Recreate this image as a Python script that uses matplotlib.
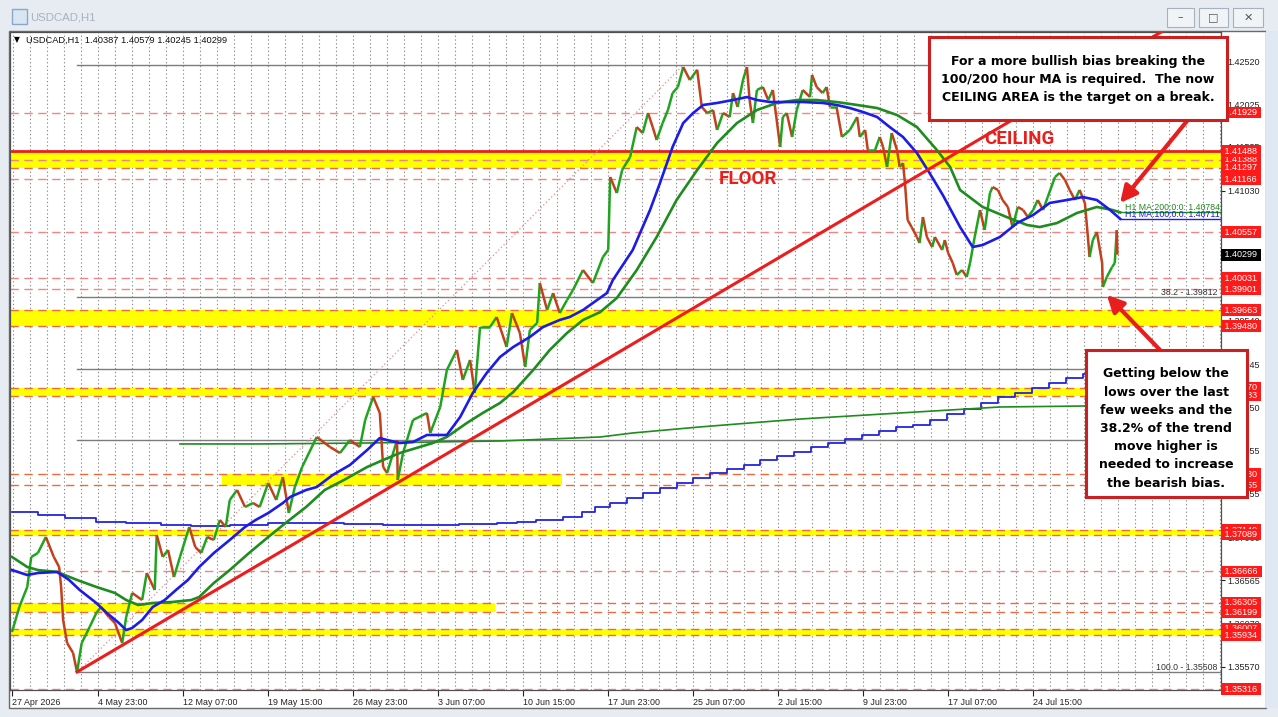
import matplotlib
matplotlib.use("Agg")
from matplotlib import pyplot as plt
from matplotlib.collections import LineCollection
from matplotlib.patches import Rectangle

plt.rcParams['font.family'] = ['Liberation Sans', 'DejaVu Sans']

# ---- data (x = hourly bar number counted from 27 Apr 2026 00:00) ----
price_bar = [0, 11, 23, 29, 39, 51, 63, 71, 74, 77, 83, 92, 98, 105, 117, 127, 134, 146, 155, 166,
             172, 181, 196, 203, 215, 218, 227, 235, 244, 253, 267, 276, 285, 294, 304, 313, 322, 328,
             339, 351, 363, 373, 386, 398, 408, 417, 426, 437, 459, 479, 494, 509, 524, 532, 544, 554,
             559, 565, 580, 581, 589, 604, 625, 630, 645, 655, 670, 679, 690, 697, 705, 720, 730, 745,
             753, 765, 773, 780, 791, 795, 806, 815, 825, 836, 845, 860, 875, 890, 898, 901, 911, 919,
             931, 941, 950, 958, 965, 971, 980, 988, 995, 1003, 1011, 1021, 1032, 1039, 1047, 1056,
             1062, 1071, 1081, 1086, 1093, 1101, 1107, 1111, 1116, 1122, 1131, 1139, 1146, 1157, 1161,
             1167, 1175, 1182, 1191, 1202, 1205, 1212, 1221, 1227, 1232, 1242, 1250, 1262, 1273, 1277,
             1285, 1289, 1300, 1307, 1312, 1318, 1325, 1333, 1337, 1342, 1345, 1349, 1355, 1363, 1367,
             1372, 1378, 1386, 1390, 1401, 1405, 1410, 1417, 1423, 1431, 1438, 1443, 1450, 1458, 1465,
             1473, 1477, 1485, 1492, 1500, 1507, 1515, 1523, 1530, 1538, 1545, 1553, 1560, 1571, 1578,
             1586, 1593, 1601, 1608, 1616, 1620, 1623, 1628, 1634, 1642, 1643, 1649, 1657, 1661, 1664,
             1665]
price_val = [1.35971, 1.36258, 1.36488, 1.36832, 1.36877, 1.37061, 1.36832, 1.36717, 1.36488, 1.36109,
             1.35845, 1.35731, 1.35510, 1.35845, 1.36029, 1.36189, 1.36258, 1.36143, 1.36075, 1.35845,
             1.36143, 1.36419, 1.36338, 1.36648, 1.36453, 1.37084, 1.36832, 1.36912, 1.36602, 1.36832,
             1.37176, 1.36946, 1.36877, 1.37061, 1.37027, 1.37256, 1.37176, 1.37485, 1.37600, 1.37405,
             1.37451, 1.37405, 1.37680, 1.37485, 1.37749, 1.37336, 1.37634, 1.37864, 1.38208, 1.38093,
             1.38024, 1.38173, 1.38093, 1.38403, 1.38667, 1.38483, 1.37864, 1.37795, 1.38173, 1.37715,
             1.38024, 1.38403, 1.38483, 1.38254, 1.38552, 1.38976, 1.39206, 1.38862, 1.39091, 1.38712,
             1.39470, 1.39470, 1.39584, 1.39240, 1.39630, 1.39401, 1.39011, 1.39435, 1.39515, 1.39974,
             1.39664, 1.39859, 1.39630, 1.39779, 1.39894, 1.40123, 1.39974, 1.40272, 1.40353, 1.41190,
             1.41006, 1.41270, 1.41419, 1.41763, 1.41694, 1.41924, 1.41763, 1.41614, 1.41809, 1.41958,
             1.42153, 1.42222, 1.42451, 1.42302, 1.42420, 1.41993, 1.41924, 1.41958, 1.41729, 1.41924,
             1.41878, 1.42153, 1.41993, 1.42302, 1.42451, 1.42073, 1.41809, 1.42188, 1.42222, 1.42073,
             1.42188, 1.41534, 1.41878, 1.41924, 1.41649, 1.41958, 1.42188, 1.42107, 1.42360, 1.42222,
             1.42153, 1.42222, 1.41993, 1.41993, 1.41649, 1.41729, 1.41878, 1.41649, 1.41729, 1.41500,
             1.41500, 1.41649, 1.41534, 1.41305, 1.41694, 1.41500, 1.41305, 1.41350, 1.41121, 1.40697,
             1.40616, 1.40502, 1.40433, 1.40731, 1.40502, 1.40387, 1.40502, 1.40353, 1.40467, 1.40318,
             1.40203, 1.40066, 1.40123, 1.40043, 1.40203, 1.40502, 1.40811, 1.40582, 1.41006, 1.41075,
             1.41041, 1.40926, 1.40846, 1.40616, 1.40846, 1.40811, 1.40731, 1.40811, 1.40926, 1.40811,
             1.40960, 1.41190, 1.41236, 1.41155, 1.41041, 1.40926, 1.41041, 1.40892, 1.40548, 1.40272,
             1.40467, 1.40559, 1.40203, 1.39928, 1.40043, 1.40158, 1.40203, 1.40579, 1.40299]

ma100_bar = [0, 23, 39, 68, 86, 102, 127, 143, 161, 172, 181, 196, 212, 230, 247, 265, 282, 304, 328,
             351, 367, 386, 408, 419, 443, 459, 483, 509, 535, 554, 565, 584, 604, 625, 655, 675, 694,
             715, 735, 755, 780, 800, 825, 840, 860, 875, 896, 905, 935, 961, 976, 995, 1011, 1026, 1041,
             1062, 1086, 1107, 1122, 1142, 1161, 1191, 1221, 1242, 1262, 1282, 1303, 1322, 1342, 1363,
             1382, 1402, 1428, 1447, 1462, 1488, 1514, 1538, 1563, 1589, 1613, 1634, 1654, 1669]
ma100_val = [1.36682, 1.36625, 1.36648, 1.36660, 1.36568, 1.36453, 1.36304, 1.36189, 1.36075, 1.35994,
             1.36017, 1.36109, 1.36258, 1.36338, 1.36453, 1.36568, 1.36717, 1.36877, 1.37027, 1.37176,
             1.37256, 1.37336, 1.37451, 1.37520, 1.37600, 1.37634, 1.37772, 1.37887, 1.38059, 1.38196,
             1.38173, 1.38139, 1.38150, 1.38231, 1.38231, 1.38437, 1.38712, 1.38942, 1.39125, 1.39240,
             1.39355, 1.39470, 1.39550, 1.39584, 1.39664, 1.39745, 1.39859, 1.40008, 1.40353, 1.40811,
             1.41121, 1.41534, 1.41809, 1.41924, 1.42016, 1.42039, 1.42073, 1.42107, 1.42073, 1.42050,
             1.42050, 1.42050, 1.42039, 1.42016, 1.41981, 1.41935, 1.41878, 1.41763, 1.41649, 1.41465,
             1.41236, 1.40983, 1.40616, 1.40387, 1.40410, 1.40502, 1.40662, 1.40754, 1.40892, 1.40926,
             1.40960, 1.40926, 1.40811, 1.40711]

ma200_bar = [0, 23, 39, 68, 98, 127, 155, 172, 190, 212, 241, 270, 282, 304, 328, 357, 386, 414, 443,
             471, 500, 535, 559, 584, 634, 655, 685, 709, 735, 755, 785, 810, 836, 860, 886, 911, 941,
             971, 1001, 1032, 1062, 1092, 1122, 1152, 1182, 1212, 1242, 1273, 1303, 1333, 1363, 1393,
             1413, 1428, 1462, 1498, 1529, 1548, 1574, 1604, 1634, 1658, 1669]
ma200_val = [1.36832, 1.36717, 1.36682, 1.36660, 1.36568, 1.36488, 1.36419, 1.36338, 1.36281, 1.36304,
             1.36315, 1.36338, 1.36373, 1.36533, 1.36682, 1.36877, 1.37061, 1.37233, 1.37405, 1.37600,
             1.37715, 1.37864, 1.37944, 1.38024, 1.38139, 1.38208, 1.38368, 1.38483, 1.38598, 1.38724,
             1.38976, 1.39206, 1.39401, 1.39550, 1.39641, 1.39802, 1.40123, 1.40502, 1.40926, 1.41270,
             1.41580, 1.41809, 1.41958, 1.42039, 1.42073, 1.42073, 1.42050, 1.42016, 1.41981, 1.41901,
             1.41763, 1.41500, 1.41305, 1.41041, 1.40846, 1.40731, 1.40639, 1.40616, 1.40662, 1.40777,
             1.40846, 1.40811, 1.40784]

# slower averages carried over from a higher timeframe (stepped blue, thin green)
slow_blue_bar = [0, 39, 80, 127, 172, 224, 270, 328, 386, 443, 500, 559, 616, 673, 730, 761, 789, 830,
                 858, 878, 901, 926, 950, 976, 1001, 1026, 1051, 1077, 1102, 1126, 1152, 1178, 1203,
                 1229, 1254, 1280, 1306, 1331, 1357, 1383, 1408, 1434, 1459, 1485, 1510, 1536, 1562,
                 1588, 1613, 1639, 1666]
slow_blue_val = [1.37348, 1.37313, 1.37279, 1.37233, 1.37222, 1.37199, 1.37187, 1.37199, 1.37222,
                 1.37222, 1.37210, 1.37199, 1.37199, 1.37210, 1.37222, 1.37233, 1.37256, 1.37290,
                 1.37348, 1.37405, 1.37451, 1.37508, 1.37566, 1.37623, 1.37680, 1.37738, 1.37795,
                 1.37841, 1.37887, 1.37944, 1.37990, 1.38036, 1.38093, 1.38139, 1.38185, 1.38231,
                 1.38277, 1.38323, 1.38345, 1.38403, 1.38472, 1.38529, 1.38598, 1.38667, 1.38712,
                 1.38770, 1.38827, 1.38885, 1.38930, 1.38976, 1.39022]
slow_green_bar = [253, 373, 535, 735, 886, 935, 1036, 1187, 1337, 1488, 1613, 1666]
slow_green_val = [1.38128, 1.38128, 1.38139, 1.38162, 1.38208, 1.38254, 1.38323, 1.38414, 1.38483,
                  1.38552, 1.38563, 1.38575]

# horizontal levels (red tags on the price scale)
level_vals = [1.41929, 1.41388, 1.41297, 1.41166, 1.40557, 1.40031, 1.39901, 1.39663, 1.39480,
              1.38770, 1.38683, 1.37780, 1.37655, 1.37140, 1.37089, 1.36666, 1.36305, 1.36199,
              1.36007, 1.35934, 1.35316]
ceiling_top = 1.41488
zone_lo = [1.41297, 1.39480, 1.38683, 1.37655, 1.37089, 1.36199, 1.35934]
zone_hi = [1.41488, 1.39663, 1.38770, 1.37780, 1.37140, 1.36305, 1.36007]
zone_from = [-3, -3, -3, 316, -3, -3, -3]
zone_to = [1821, 1821, 1821, 828, 1821, 727, 1821]

# fibonacci retracement of the Apr low -> Jun high
fib_bars = [98, 1011]
fib_pct = ['0.0', '38.2', '50.0', '61.8', '100.0']
fib_price = [1.42472, 1.39812, 1.38990, 1.38168, 1.35508]

trend_bar = [98, 1736]
trend_val = [1.35513, 1.42876]

grid_vals = [1.42520, 1.42025, 1.41535, 1.41030, 1.40540, 1.40045, 1.39540, 1.39045, 1.38550,
             1.38055, 1.37555, 1.37060, 1.36565, 1.36070, 1.35570]
date_bars = [0, 130, 258, 386, 514, 642, 770, 898, 1026, 1154, 1282, 1410, 1538]
date_labels = ['27 Apr 2026', '4 May 23:00', '12 May 07:00', '19 May 15:00', '26 May 23:00',
               '3 Jun 07:00', '10 Jun 15:00', '17 Jun 23:00', '25 Jun 07:00', '2 Jul 15:00',
               '9 Jul 23:00', '17 Jul 07:00', '24 Jul 15:00']
last_price = 1.40299
ma100_last = 1.40711
ma200_last = 1.40784
ohlc = '1.40387 1.40579 1.40245 1.40299'

W, H = 1278, 717
XMAX = 1821

fig = plt.figure(figsize=(12.78, 7.17), dpi=100)
fig.patch.set_facecolor('#e7ecf2')


def fig_rect(x0, y0, x1, y1, **kw):
    r = Rectangle((x0 / W, 1 - y1 / H), (x1 - x0) / W, (y1 - y0) / H,
                  transform=fig.transFigure, **kw)
    fig.add_artist(r)
    return r


# window chrome
fig_rect(9, 31, 1266, 708, fc='white', ec='#6a6a6a', lw=1.0, zorder=0)
fig_rect(1266, 31, 1278, 708, fc='#dfe8f3', ec='none', zorder=0)
fig_rect(12, 9, 27, 24, fc='#d8e6f4', ec='#8aa7c6', lw=1, zorder=1)
fig.text(30 / W, 1 - 17 / H, 'USDCAD,H1', fontsize=8.2, color='#a9b2bb', va='center')
for bx0, bx1, glyph in [(1167, 1194, '\u2013'), (1199, 1228, '\u25a1'), (1233, 1263, '\u2715')]:
    fig_rect(bx0, 8, bx1, 27, fc='#f1f4f7', ec='#a7b1bb', lw=0.8, zorder=1)
    fig.text((bx0 + bx1) / 2 / W, 1 - 17.5 / H, glyph, fontsize=8, color='#555555',
             ha='center', va='center', family='DejaVu Sans')

ax = fig.add_axes([10 / W, 1 - 690 / H, 1211 / W, 658 / H])
ax.set_xlim(-3, XMAX)
ax.set_ylim(1.35306, 1.42853)
for sp in ax.spines.values():
    sp.set_color('#505050')
    sp.set_linewidth(0.9)

# vertical dotted grid
gx = 2.0
while gx < XMAX:
    ax.axvline(gx, color='#8e8e8e', ls=(0, (1.2, 2.2)), lw=0.8, zorder=0.5)
    gx += 25.6

# zones and levels
for lo, hi, a, b in zip(zone_lo, zone_hi, zone_from, zone_to):
    ax.fill_between([a, b], lo, hi, color='#ffff00', lw=0, zorder=1)
zone_edges = set(zone_lo + zone_hi)
for v in level_vals:
    col = '#ee6a3a' if v in zone_edges else '#f28484'
    ax.axhline(v, color=col, ls=(0, (6, 4)), lw=1.0, zorder=1.5)
ax.axhline(ceiling_top, color='#ee1c1c', lw=2.0, zorder=1.6)

# fibonacci lines
for pct, p in zip(fib_pct, fib_price):
    ax.plot([fib_bars[0], XMAX], [p, p], color='#7c7c7c', lw=1.0, zorder=1.7)
    ax.text(0.997, p, f'{pct} - {p:.5f}', transform=ax.get_yaxis_transform(), ha='right',
            va='bottom', fontsize=6.3, color='#333333', zorder=1.8)
ax.plot(fib_bars, [fib_price[-1], fib_price[0]], color='#e88a8a', ls=(0, (1, 2)), lw=0.9,
        zorder=1.7)

# slower averages
ax.plot(slow_blue_bar, slow_blue_val, color='#2424e0', lw=1.3, drawstyle='steps-post', zorder=2)
ax.plot(slow_green_bar, slow_green_val, color='#1e8c1e', lw=1.2, zorder=2)

# price path, coloured by direction like the candles
segs, cols = [], []
for i in range(1, len(price_bar)):
    segs.append([(price_bar[i - 1], price_val[i - 1]), (price_bar[i], price_val[i])])
    cols.append('#20a420' if price_val[i] >= price_val[i - 1] else '#c2401c')
ax.add_collection(LineCollection(segs, colors=cols, linewidths=1.8, zorder=3))

# hourly moving averages
ax.plot(ma200_bar, ma200_val, color='#1e8c1e', lw=1.9, zorder=3.5)
ax.plot(ma100_bar, ma100_val, color='#1c1ce8', lw=1.9, zorder=3.6)
ax.plot([ma200_bar[-1], XMAX], [ma200_last, ma200_last], color='#1e8c1e', lw=1.0, zorder=3.5)
ax.plot([ma100_bar[-1], XMAX], [ma100_last, ma100_last], color='#1c1ce8', lw=1.0, zorder=3.6)
ax.text(0.999, ma200_last, f'H1 MA:200:0:0: {ma200_last:.5f}', transform=ax.get_yaxis_transform(),
        ha='right', va='bottom', fontsize=6.3, color='#1e8c1e', zorder=3.7)
ax.text(0.999, ma100_last, f'H1 MA:100:0:0: {ma100_last:.5f}', transform=ax.get_yaxis_transform(),
        ha='right', va='bottom', fontsize=6.3, color='#1c1ce8', zorder=3.7)

# trend line
ax.plot(trend_bar, trend_val, color='#ee1c1c', lw=2.2, zorder=4)

ax.text(1518, 1.41626, 'CEILING', color='#e8201c', fontsize=13.5, weight='bold',
        family=['Liberation Sans Narrow', 'Roboto'], ha='center', va='center', zorder=5)
ax.text(1108, 1.41167, 'FLOOR', color='#e8201c', fontsize=13.5, weight='bold',
        family=['Liberation Sans Narrow', 'Roboto'], ha='center', va='center', zorder=5)

# axes ticks
ax.yaxis.tick_right()
ax.set_yticks(grid_vals, [f'{v:.5f}' for v in grid_vals])
ax.tick_params(axis='y', length=3, width=0.8, pad=1.5, labelsize=6.5, colors='#222222')
ax.set_xticks(date_bars, date_labels)
ax.tick_params(axis='x', length=4, width=0.8, pad=1.5, labelsize=6.4, colors='#222222')
for lbl in ax.get_xticklabels():
    lbl.set_horizontalalignment('left')

# price tags on the right scale
tag_tr = ax.get_yaxis_transform()
for v in level_vals + [ceiling_top]:
    ax.text(1.001, v, f' {v:.5f} ', transform=tag_tr, ha='left', va='center', fontsize=6.5,
            color='white', clip_on=False, zorder=6,
            bbox=dict(boxstyle='square,pad=0.15', fc='#ff1a1a', ec='none'))
ax.text(1.001, last_price, f' {last_price:.5f} ', transform=tag_tr, ha='left', va='center',
        fontsize=6.5, color='white', clip_on=False, zorder=6,
        bbox=dict(boxstyle='square,pad=0.15', fc='black', ec='none'))

# header line
fig.text(14 / W, 1 - 40 / H, '\u25bc', fontsize=5.5, va='center', family='DejaVu Sans')
fig.text(26 / W, 1 - 40 / H, 'USDCAD,H1  ' + ohlc, fontsize=6.7, va='center', color='#111111')

# arrows
arrow_kw = dict(arrowstyle='-|>,head_length=1.0,head_width=0.5', color='#e81e1e', lw=3,
                shrinkA=0, shrinkB=0)
ax.annotate('', xy=(1669, 1.40892), xytext=(1187 / W, 1 - 121 / H), textcoords='figure fraction',
            arrowprops=arrow_kw, annotation_clip=False, zorder=7)
ax.annotate('', xy=(1649, 1.39837), xytext=(1161 / W, 1 - 351 / H), textcoords='figure fraction',
            arrowprops=arrow_kw, annotation_clip=False, zorder=7)

# comment boxes
fig_rect(929, 37, 1227, 120, fc='white', ec='#cc1f1f', lw=2.2, zorder=5)
box1 = ['For a more bullish bias breaking the',
        '100/200 hour MA is required.  The now',
        'CEILING AREA is the target on a break.']
for i, line in enumerate(box1):
    fig.text(1078 / W, 1 - (61 + 18.5 * i) / H, line, ha='center', va='center', fontsize=9,
             weight='bold', family='DejaVu Sans', color='black', zorder=6)

fig_rect(1086, 350, 1247, 497, fc='white', ec='#cc1f1f', lw=2.2, zorder=5)
box2 = ['Getting below the', 'lows over the last', 'few weeks and the', '38.2% of the trend',
        'move higher is', 'needed to increase', 'the bearish bias.']
for i, line in enumerate(box2):
    fig.text(1166 / W, 1 - (374 + 18.2 * i) / H, line, ha='center', va='center', fontsize=9,
             weight='bold', family='DejaVu Sans', color='black', zorder=6)

fig.savefig('out.png', dpi=100, facecolor=fig.get_facecolor())
